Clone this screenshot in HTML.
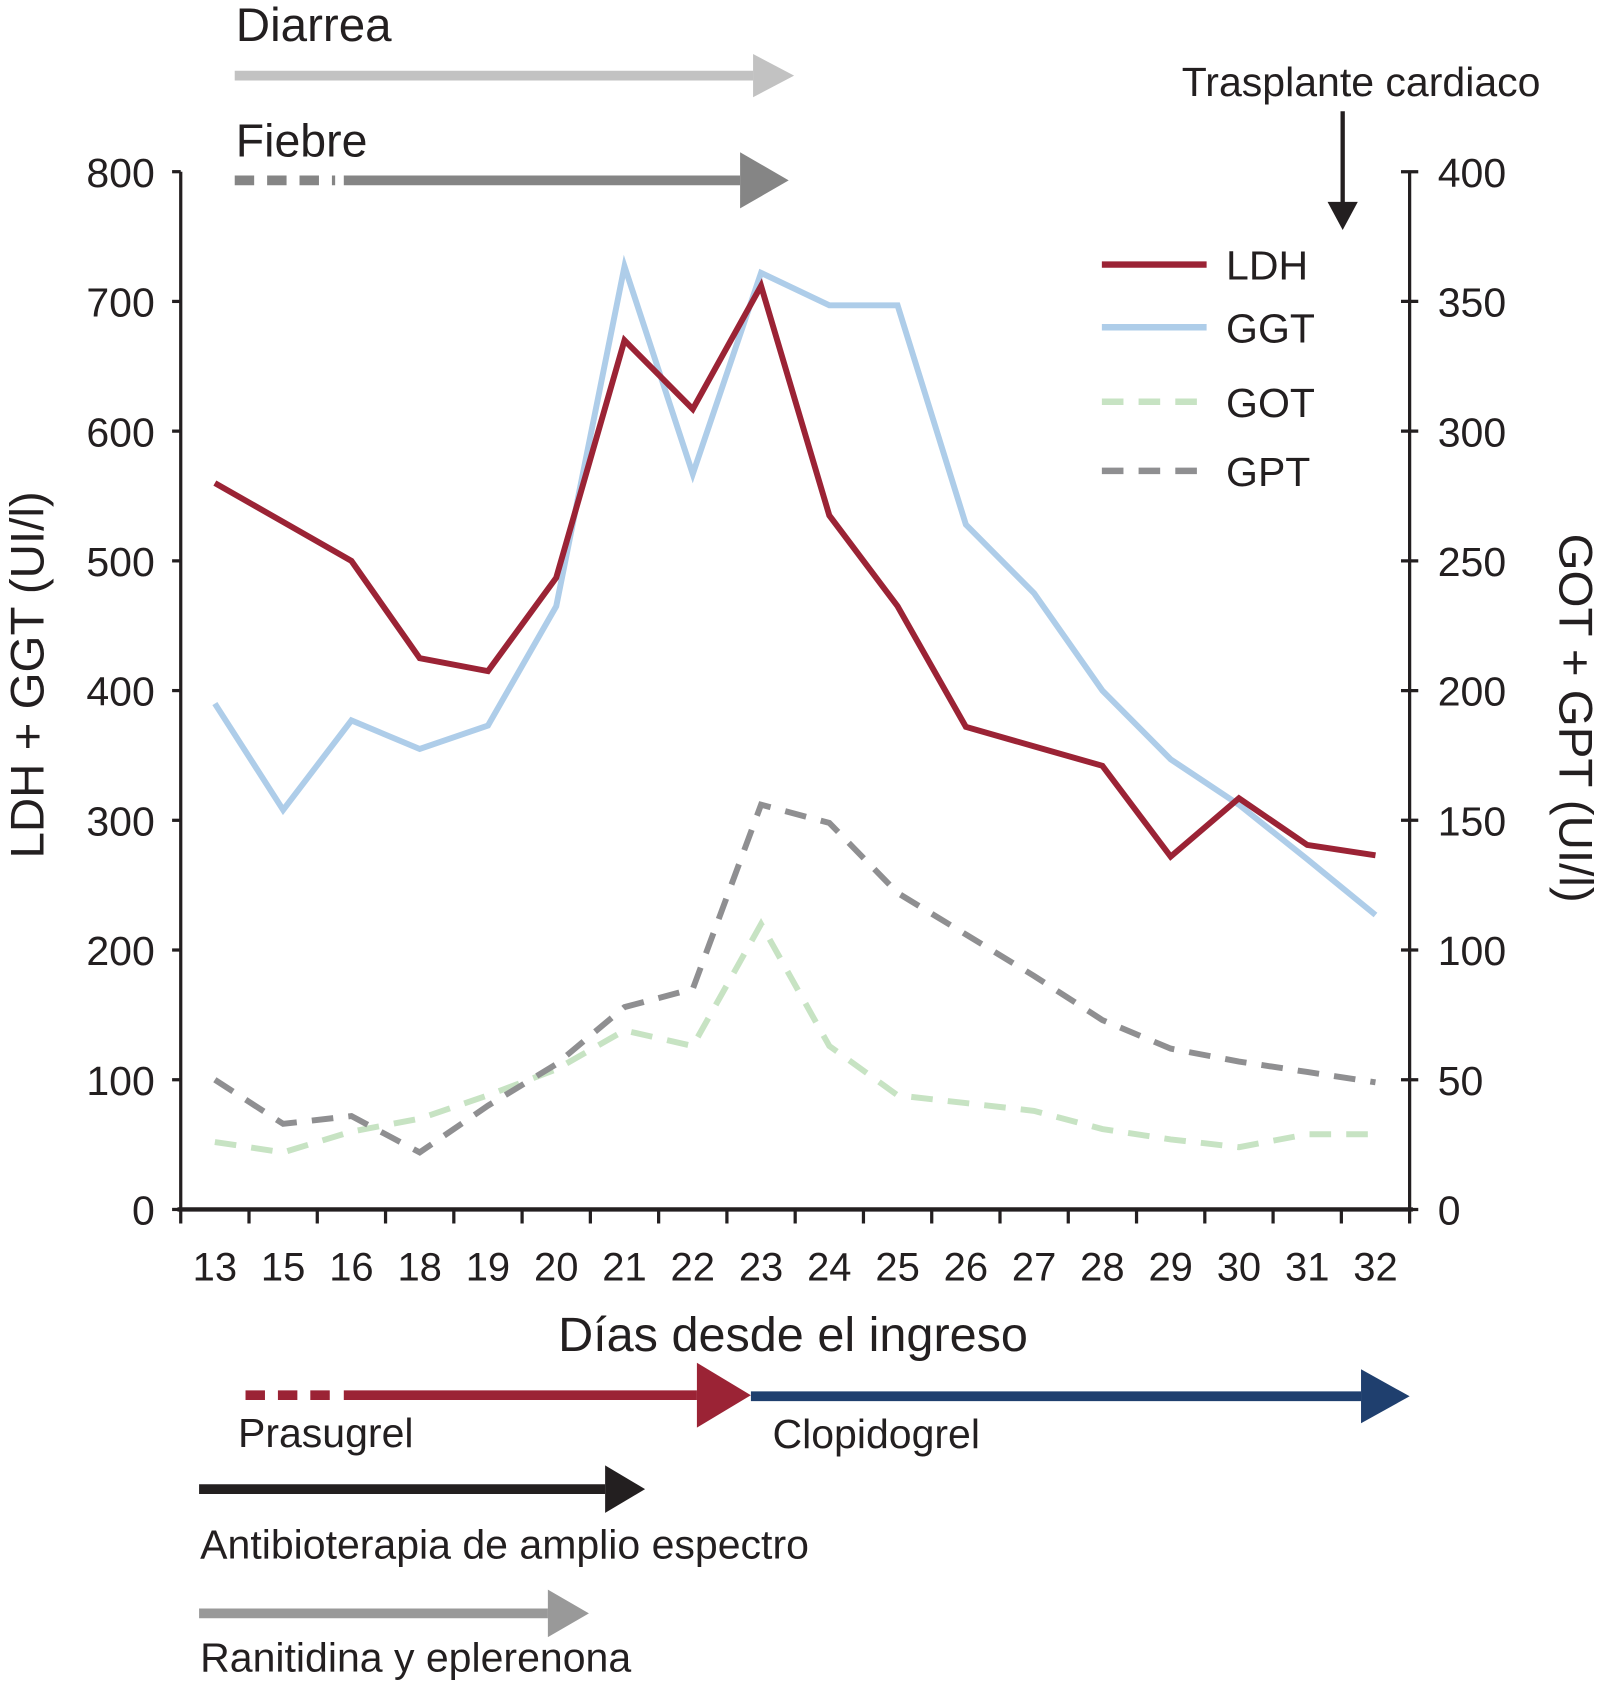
<!DOCTYPE html>
<html><head><meta charset="utf-8"><style>
html,body{margin:0;padding:0;background:#fff}
svg{display:block}
text{font-family:"Liberation Sans",Arial,sans-serif;fill:#231f20}
</style></head><body>
<svg id="chart" width="1599" height="1690" viewBox="0 0 1480 1565" xmlns="http://www.w3.org/2000/svg">
<g id="ann"></g>
<g id="axes"></g>
<g id="series"></g>
</svg>
<script>
const categories=["13","15","16","18","19","20","21","22","23","24","25","26","27","28","29","30","31","32"];
const ldh=[560,530,500,425,415,487,670,617,712,535,465,372,357,342,272,317,281,273];
const ggt=[390,308,377,355,373,465,727,567,722,697,697,528,475,400,347,312,270,227];
const got=[26,22,30,35,44,54,69,63,110,63,44,41,38,31,27,24,29,29];
const gpt=[50,33,36,22,40,56,78,85,156,149,122,106,90,73,62,57,53,49];
const leftTicks=[0,100,200,300,400,500,600,700,800];
const rightTicks=[0,50,100,150,200,250,300,350,400];
const NS="http://www.w3.org/2000/svg";
const X0=167,X1=1305,Y0=1120,Y1=159;
const step=(X1-X0)/categories.length;
const xs=i=>X0+step*(i+0.5);
const yl=v=>Y0-(v/800)*(Y0-Y1);
const yr=v=>Y0-(v/400)*(Y0-Y1);
function mk(tag,attrs,parent,txt){const e=document.createElementNS(NS,tag);for(const k in attrs)e.setAttribute(k,attrs[k]);if(txt!==undefined)e.textContent=txt;parent.appendChild(e);return e;}
const axes=document.getElementById('axes'),ser=document.getElementById('series'),ann=document.getElementById('ann');
let e=mk('line',{x1:X0,y1:Y1,x2:X0,y2:Y0+1,stroke:'#231f20','stroke-width':3},axes);


e=mk('line',{x1:X1,y1:Y1,x2:X1,y2:Y0+1,stroke:'#231f20','stroke-width':3},axes);


e=mk('line',{x1:X0-3,y1:Y0,x2:X1+3,y2:Y0,stroke:'#231f20','stroke-width':4},axes);


leftTicks.forEach(v=>{
  mk('line',{x1:X0-8,y1:yl(v),x2:X0,y2:yl(v),stroke:'#231f20','stroke-width':3},axes);
  const t=mk('text',{x:143,y:yl(v)+14,'text-anchor':'end','font-size':38},axes,String(v));
  
  
});
rightTicks.forEach(v=>{
  mk('line',{x1:X1-8,y1:yr(v),x2:X1+8,y2:yr(v),stroke:'#231f20','stroke-width':3},axes);
  const t=mk('text',{x:1331,y:yr(v)+14,'text-anchor':'start','font-size':38},axes,String(v));
  
  
});
for(let i=0;i<=categories.length;i++){
  mk('line',{x1:X0+step*i,y1:Y0,x2:X0+step*i,y2:Y0+13,stroke:'#231f20','stroke-width':3},axes);
}
categories.forEach((c,i)=>{
  const t=mk('text',{x:xs(i),y:1186,'text-anchor':'middle','font-size':37},axes,c);
  
  
});
e=mk('text',{x:734,y:1251,'text-anchor':'middle','font-size':45},axes,'Días desde el ingreso');


e=mk('text',{x:0,y:0,'text-anchor':'middle','font-size':44,transform:'translate(40,625) rotate(-90)'},axes,'LDH + GGT (UI/l)');


e=mk('text',{x:0,y:0,'text-anchor':'middle','font-size':44,transform:'translate(1444,665) rotate(90)'},axes,'GOT + GPT (UI/l)');


function line(arr,yf,color,dash,name){
  const pts=arr.map((v,i)=>xs(i)+','+yf(v)).join(' ');
  const a={points:pts,fill:'none',stroke:color,'stroke-width':5.5,'stroke-linejoin':'miter'};
  if(dash)a['stroke-dasharray']=dash;
  const p=mk('polyline',a,ser);
  
  
}
line(got,yr,'#c7e3c3','20 14','got-line');
line(gpt,yr,'#8f8f91','20 14','gpt-line');
line(ggt,yl,'#aecde9',null,'ggt-line');
line(ldh,yl,'#9b2335',null,'ldh-line');
const leg=[['LDH','#9b2335',null,245],['GGT','#aecde9',null,303],['GOT','#c7e3c3','20 14',372],['GPT','#8f8f91','20 14',436]];
leg.forEach(l=>{
  const g=mk('g',{},ser);
  
  
  const a={x1:1020,y1:l[3],x2:1117,y2:l[3],stroke:l[1],'stroke-width':6};
  if(l[2])a['stroke-dasharray']=l[2];
  mk('line',a,g);
  mk('text',{x:1135,y:l[3]+14,'font-size':38},g,l[0]);
});
function arrow(x1,x2,hx,y,h,color,w,name,dashEnd){
  const g=mk('g',{},ann);
  
  
  if(dashEnd){
    mk('line',{x1:x1,y1:y,x2:dashEnd,y2:y,stroke:color,'stroke-width':w,'stroke-dasharray':'18 12'},g);
    mk('line',{x1:dashEnd+8,y1:y,x2:x2,y2:y,stroke:color,'stroke-width':w},g);
  } else mk('line',{x1:x1,y1:y,x2:x2,y2:y,stroke:color,'stroke-width':w},g);
  mk('polygon',{points:`${x2},${y-h} ${hx},${y} ${x2},${y+h}`,fill:color},g);
  return g;
}
arrow(217,697,735,70,20,'#c2c2c2',9,'diarrea-arrow');
arrow(217,685,730,167,26,'#858585',9,'fiebre-arrow',310);
arrow(227,645,695,1292,30,'#9b2335',9,'prasugrel-arrow',310);
arrow(695,1260,1305,1293,25,'#1f3f6e',9,'clopidogrel-arrow');
arrow(184,560,597,1379,22,'#231f20',9,'antibiotic-arrow');
arrow(184,507,545,1494,22,'#999999',9,'ranitidine-arrow');
e=mk('g',{},ann);


mk('line',{x1:1243,y1:103,x2:1243,y2:190,stroke:'#231f20','stroke-width':4},e);
mk('polygon',{points:'1229,187 1243,213 1257,187',fill:'#231f20'},e);
const labels=[['Diarrea',218,38,44,'diarrea-label'],['Fiebre',218,145,43,'fiebre-label'],['Trasplante cardiaco',1094,89,38,'transplant-label'],
['Prasugrel',220,1340,38,'prasugrel-label'],['Clopidogrel',715,1341,38,'clopidogrel-label'],['Antibioterapia de amplio espectro',185,1443,38,'antibiotic-label'],['Ranitidina y eplerenona',185,1548,38,'ranitidine-label']];
labels.forEach(l=>{
  const t=mk('text',{x:l[1],y:l[2],'font-size':l[3]},ann,l[0]);
  
  
});
</script>
</body></html>
